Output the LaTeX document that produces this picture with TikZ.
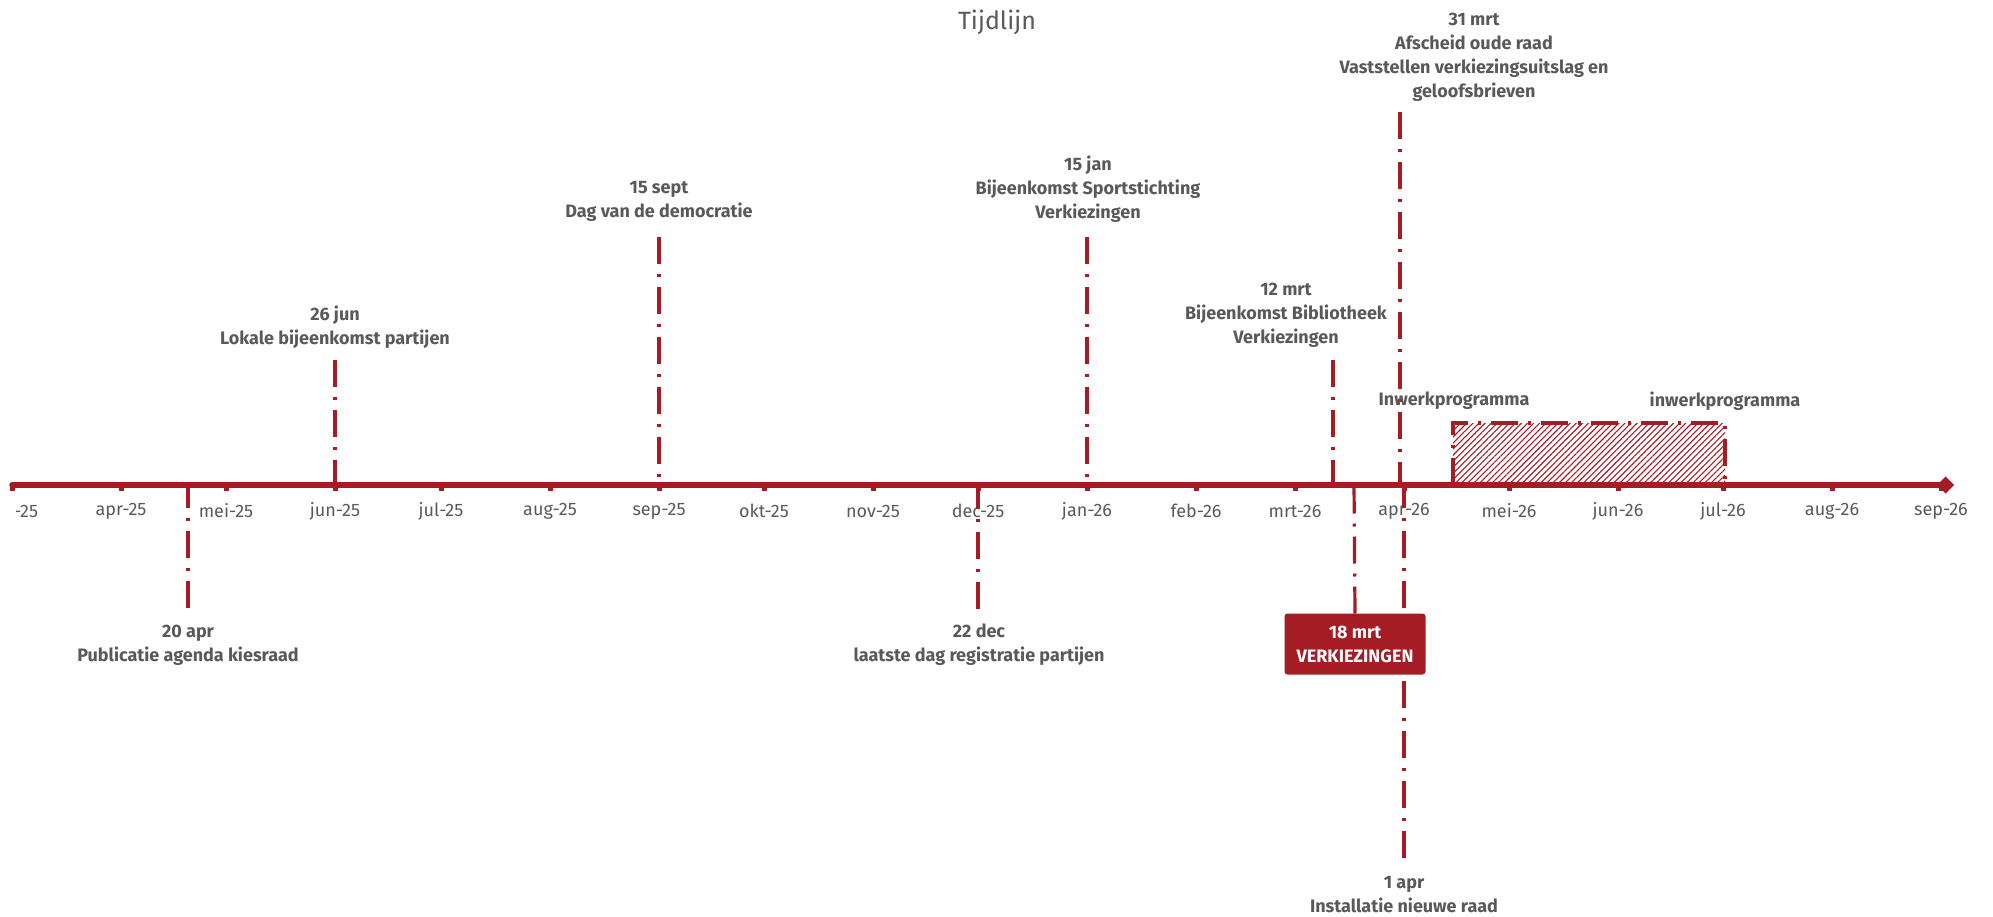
\documentclass[tikz,border=0pt]{standalone}
\usepackage{fontspec}
\setmainfont{Fira Sans}
\usepackage{tikz}
\usetikzlibrary{arrows.meta,patterns.meta}
\definecolor{tlred}{HTML}{A51C24}
\definecolor{tlgray}{HTML}{595959}

\begin{document}
\begin{tikzpicture}[x=1pt,y=-1pt,
  every node/.style={text=tlgray, inner sep=0pt, outer sep=0pt},
  month/.style={font=\fontsize{18}{20}\selectfont},
  event/.style={font=\fontsize{18}{24}\selectfont\bfseries, align=center},
  eventline/.style={draw=tlred, line width=3.2pt, dash pattern=on 27pt off 10pt on 3pt off 10pt},
  tick/.style={draw=tlred, line width=5pt}]
\useasboundingbox (0,0) rectangle (1993,917);
\clip (0,0) rectangle (1993,917);

\node[font=\fontsize{25}{30}\selectfont] (title) at (997,22) {Tijdlijn};

% maanden
\begin{scope}
\clip (16,495) rectangle (60,530);
\node[month] (mrt25) at (12,511) {mrt-25};
\end{scope}
\node[month] (apr25) at (121,511) {apr-25};
\node[month] (mei25) at (226,511) {mei-25};
\node[month] (jun25) at (335,511) {jun-25};
\node[month] (jul25) at (441,511) {jul-25};
\node[month] (aug25) at (550,511) {aug-25};
\node[month] (sep25) at (659,511) {sep-25};
\node[month] (okt25) at (764,511) {okt-25};
\node[month] (nov25) at (873,511) {nov-25};
\node[month] (dec25) at (978,511) {dec-25};
\node[month] (jan26) at (1087,511) {jan-26};
\node[month] (feb26) at (1196,511) {feb-26};
\node[month] (mrt26) at (1295,511) {mrt-26};
\node[month] (apr26) at (1404,511) {apr-26};
\node[month] (mei26) at (1509,511) {mei-26};
\node[month] (jun26) at (1618,511) {jun-26};
\node[month] (jul26) at (1723,511) {jul-26};
\node[month] (aug26) at (1832,511) {aug-26};
\node[month] (sep26) at (1941,511) {sep-26};

% punten op de as
\coordinate (a20) at (188,485);
\coordinate (a20e) at (188,608);
\coordinate (j26) at (335,485);
\coordinate (j26t) at (335,360);
\coordinate (s15) at (659,485);
\coordinate (s15t) at (659,237);
\coordinate (d22) at (978,485);
\coordinate (d22e) at (978,609);
\coordinate (j15) at (1087,485);
\coordinate (j15t) at (1087,237);
\coordinate (m12) at (1333,485);
\coordinate (m12t) at (1333,360);
\coordinate (m18) at (1354,485);
\coordinate (m31) at (1400,485);
\coordinate (m31t) at (1400,112);
\coordinate (a1) at (1404,485);
\coordinate (a1e) at (1404,858);

\draw[eventline] (a20e) -- (a20);
\draw[eventline] (j26t) -- (j26);
\draw[eventline] (s15t) -- (s15);
\draw[eventline] (d22e) -- (d22);
\draw[eventline] (j15t) -- (j15);
\draw[eventline] (m12t) -- (m12);
\draw[eventline] (m31t) -- (m31);
\draw[eventline] (a1e) -- (a1);

% tijdas
\coordinate (start) at (12,485);
\coordinate (eind) at (1954,485);
\draw[tick] (12,485) -- ++(0,6) (121,485) -- ++(0,6) (226,485) -- ++(0,6)
  (335,485) -- ++(0,6) (441,485) -- ++(0,6) (550,485) -- ++(0,6)
  (659,485) -- ++(0,6) (764,485) -- ++(0,6) (873,485) -- ++(0,6)
  (978,485) -- ++(0,6) (1087,485) -- ++(0,6) (1196,485) -- ++(0,6)
  (1295,485) -- ++(0,6) (1404,485) -- ++(0,6) (1509,485) -- ++(0,6)
  (1618,485) -- ++(0,6) (1723,485) -- ++(0,6) (1832,485) -- ++(0,6)
  (1941,485) -- ++(0,6);
\draw[draw=tlred, line width=5.5pt, line cap=round, -{Diamond[length=17pt,width=17pt]}] (start) -- (eind);

% inwerkprogramma
\draw[eventline, pattern={Lines[angle=45,distance=4.3pt,line width=1.1pt]}, pattern color=tlred]
  (1453,485) rectangle (1725,423);
\node[event] (inw1) at (1454,401) {Inwerkprogramma};
\node[event] (inw2) at (1725,401) {inwerkprogramma};

% gebeurtenissen
\node[event] (a20L) at (188,645) {20 apr\\Publicatie agenda kiesraad};
\node[event] (j26L) at (335,327) {26 jun\\Lokale bijeenkomst partijen};
\node[event] (s15L) at (659,201) {15 sept\\Dag van de democratie};
\node[event] (d22L) at (979,645) {22 dec\\laatste dag registratie partijen};
\node[event] (j15L) at (1088,189) {15 jan\\Bijeenkomst Sportstichting\\Verkiezingen};
\node[event] (m12L) at (1286,315) {12 mrt\\Bijeenkomst Bibliotheek\\Verkiezingen};
\node[event] (m31L) at (1474,57) {31 mrt\\Afscheid oude raad\\Vaststellen verkiezingsuitslag en\\geloofsbrieven};
\node[event] (a1L) at (1404,895) {1 apr\\Installatie nieuwe raad};

\node[event, fill=tlred, text=white, rounded corners=3pt, minimum width=141pt, minimum height=61pt] (verk) at (1355,644) {18 mrt\\VERKIEZINGEN};
\draw[eventline] (verk.north) -- (m18);
\end{tikzpicture}
\end{document}
